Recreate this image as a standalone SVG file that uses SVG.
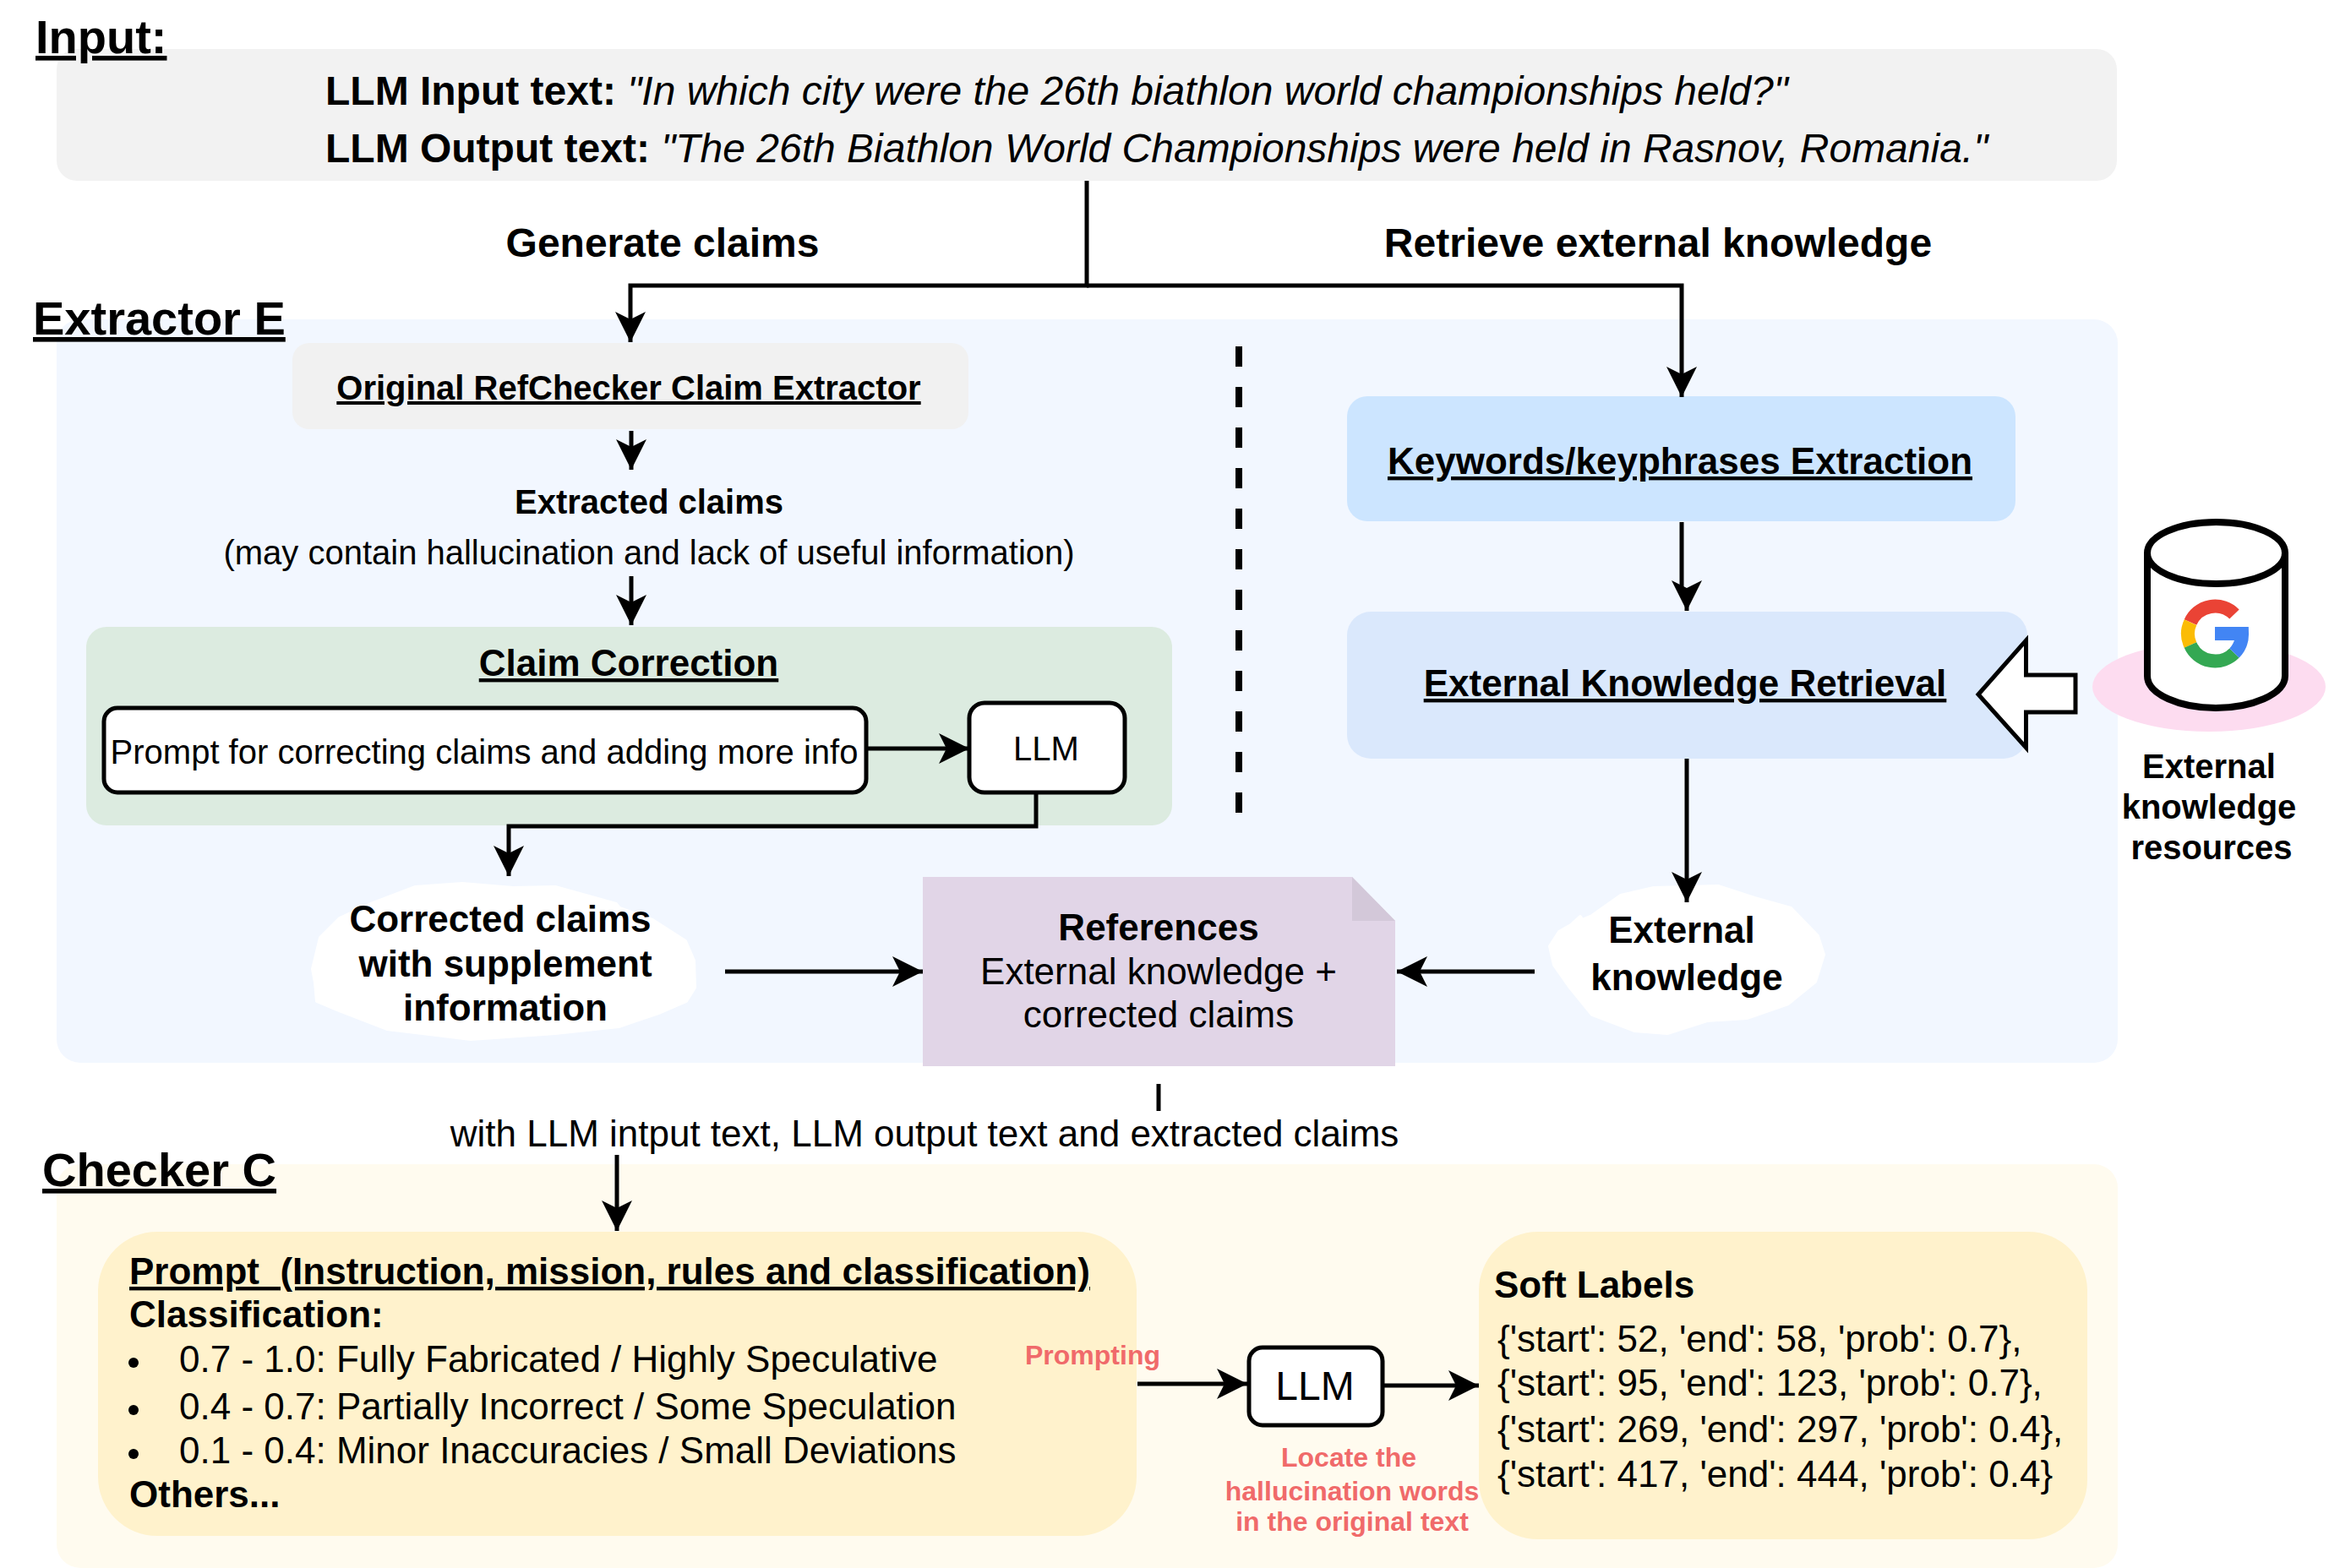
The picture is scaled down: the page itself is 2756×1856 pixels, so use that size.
<svg xmlns="http://www.w3.org/2000/svg" width="2756" height="1856" viewBox="0 0 2756 1856">
<style>
text{font-family:"Liberation Sans",Arial,sans-serif;fill:#000}
.b{font-weight:700}.u{text-decoration:underline}.m{text-anchor:middle}.i{font-style:italic}
.t{font-size:56px;font-weight:700;text-decoration:underline}
.s44{font-size:44px}.s48{font-size:48px}.s40{font-size:40px}
.red{font-size:32px;font-weight:700;fill:#f06a6a}
.c{fill:none;stroke:#000;stroke-width:5}
.a{marker-end:url(#arr)}
.wb{fill:#fff;stroke:#000;stroke-width:5}
.cloud{fill:#fff;stroke:#fff;stroke-width:4;stroke-linejoin:round}
</style>
<defs>
<marker id="arr" markerUnits="userSpaceOnUse" markerWidth="40" markerHeight="40" refX="36" refY="20" orient="auto" overflow="visible">
<path d="M0,2 L36,20 L0,38 L9,20 Z" fill="#000"/>
</marker>
</defs>
<rect width="2756" height="1856" fill="#fff"/>
<g id="zones">
<rect id="input-zone" x="67" y="58" width="2438" height="156" rx="24" fill="#f2f2f2"/>
<rect id="extractor-zone" x="67" y="378" width="2439" height="880" rx="28" fill="#f2f7ff"/>
<rect id="checker-zone" x="67" y="1378" width="2439" height="478" rx="28" fill="#fffbef"/>
</g>
<g id="titles">
<text class="t" x="42" y="63">Input:</text>
<text class="t" x="39" y="396">Extractor E</text>
<text class="t" x="50" y="1404">Checker C</text>
</g>
<g id="input-text" class="s48">
<text x="385" y="124"><tspan class="b">LLM Input text: </tspan><tspan class="i">"In which city were the 26th biathlon world championships held?"</tspan></text>
<text x="385" y="192"><tspan class="b">LLM Output text: </tspan><tspan class="i">"The 26th Biathlon World Championships were held in Rasnov, Romania."</tspan></text>
</g>
<g id="branch-labels">
<text class="b m s48" x="784" y="304">Generate claims</text>
<text class="b m s48" x="1962" y="304">Retrieve external knowledge</text>
</g>
<g id="node-refchecker">
<rect x="346" y="406" width="800" height="102" rx="20" fill="#f1f1f1"/>
<text class="b u m s40" x="744" y="473">Original RefChecker Claim Extractor</text>
</g>
<g id="node-extracted">
<text class="b m s40" x="768" y="608">Extracted claims</text>
<text class="m s40" x="768" y="668">(may contain hallucination and lack of useful information)</text>
</g>
<g id="node-claim-correction">
<rect x="102" y="742" width="1285" height="235" rx="24" fill="#dcebe0"/>
<text class="b u m s44" x="744" y="800">Claim Correction</text>
</g>
<g id="node-prompt-correct">
<rect class="wb" x="123" y="838" width="902" height="100" rx="16"/>
<text class="m s40" x="573" y="904">Prompt for correcting claims and adding more info</text>
</g>
<g id="node-llm-1">
<rect class="wb" x="1147" y="832" width="184" height="106" rx="18"/>
<text class="m s40" x="1238" y="900">LLM</text>
</g>
<g id="divider"><path d="M1466 410V963" fill="none" stroke="#000" stroke-width="8" stroke-dasharray="24 24"/></g>
<g id="node-keywords">
<rect x="1594" y="469" width="791" height="148" rx="24" fill="#cce5ff"/>
<text class="b u m s44" x="1988" y="561">Keywords/keyphrases Extraction</text>
</g>
<g id="node-retrieval">
<rect x="1594" y="724" width="805" height="174" rx="28" fill="#dae8fc"/>
<text class="b u m s44" x="1994" y="824">External Knowledge Retrieval</text>
</g>
<g id="node-resources">
<ellipse cx="2614" cy="813" rx="138" ry="53" fill="#fddcf0"/>
<path d="M2541 655V800C2541 822 2580 838 2622 838C2664 838 2704 822 2704 800V655" fill="#fff" stroke="#000" stroke-width="8"/>
<ellipse cx="2622.500" cy="654.500" rx="81.500" ry="36.500" fill="#fff" stroke="#000" stroke-width="8"/>
<g fill="none" stroke-width="16">
<path d="M2644 727A32 32 0 0 0 2592 736.500" stroke="#ea4335"/>
<path d="M2592 736.500A32 32 0 0 0 2592 763.500" stroke="#fbbc05"/>
<path d="M2592 763.500A32 32 0 0 0 2644 773" stroke="#34a853"/>
<path d="M2644 773A32 32 0 0 0 2653 750H2621" stroke="#4285f4"/>
</g>
<text class="b m s40" x="2614" y="921">External</text>
<text class="b m s40" x="2614" y="969">knowledge</text>
<text class="b m s40" x="2617" y="1017">resources</text>
</g>
<g id="node-big-arrow">
<path d="M2341 822L2397.500 758V799H2456V843H2397.500V885Z" fill="#fff" stroke="#000" stroke-width="5"/>
</g>
<g id="node-corrected">
<polygon class="cloud" points="370,1147 379,1110 402,1087 441,1069 491,1050 547,1046 607,1051 657,1050 729,1070 733,1075 772,1089 811,1114 821,1137 822,1169 812,1185 782,1198 732,1215 657,1223 557,1230 458,1218 401,1196 375,1185 373,1163"/>
<text class="b m s44" x="592" y="1103">Corrected claims</text>
<text class="b m s44" x="598" y="1156">with supplement</text>
<text class="b m s44" x="598" y="1208">information</text>
</g>
<g id="node-references">
<path d="M1092 1038H1600L1651 1090V1262H1092Z" fill="#e1d5e7"/>
<path d="M1600 1038L1651 1090H1600Z" fill="#d3c8d9"/>
<text class="b m s44" x="1371" y="1113">References</text>
<text class="m s44" x="1371" y="1165">External knowledge +</text>
<text class="m s44" x="1371" y="1216">corrected claims</text>
</g>
<g id="node-external">
<polygon class="cloud" points="1834,1120 1845,1103 1859,1095 1870,1085 1872,1089 1884,1084 1918,1060 1957,1051 2033,1049 2076,1063 2119,1075 2151,1108 2158,1130 2148,1162 2116,1188 2067,1205 2020,1208 1973,1223 1934,1220 1884,1201 1858,1169 1839,1142"/>
<text class="b m s44" x="1990" y="1116">External</text>
<text class="b m s44" x="1996" y="1172">knowledge</text>
</g>
<g id="connector-label">
<text class="m s44" x="1094" y="1357">with LLM intput text, LLM output text and extracted claims</text>
</g>
<g id="node-prompt">
<rect x="116" y="1458" width="1229" height="360" rx="70" fill="#fff2cc"/>
<text class="b u s44" x="153" y="1520" xml:space="preserve">Prompt  (Instruction, mission, rules and classification)</text>
<text class="b s44" x="153" y="1571">Classification:</text>
<circle cx="158" cy="1613" r="6"/><circle cx="158" cy="1669" r="6"/><circle cx="158" cy="1721" r="6"/>
<text class="s44" x="212" y="1624">0.7 - 1.0: Fully Fabricated / Highly Speculative</text>
<text class="s44" x="212" y="1680">0.4 - 0.7: Partially Incorrect / Some Speculation</text>
<text class="s44" x="212" y="1732">0.1 - 0.4: Minor Inaccuracies / Small Deviations</text>
<text class="b s44" x="153" y="1784">Others...</text>
</g>
<g id="node-soft">
<rect x="1750" y="1458" width="720" height="364" rx="70" fill="#fff2cc"/>
<text class="b s44" x="1768" y="1536">Soft Labels</text>
<text class="s44" x="1772" y="1600">{'start': 52, 'end': 58, 'prob': 0.7},</text>
<text class="s44" x="1772" y="1652">{'start': 95, 'end': 123, 'prob': 0.7},</text>
<text class="s44" x="1772" y="1707">{'start': 269, 'end': 297, 'prob': 0.4},</text>
<text class="s44" x="1772" y="1760">{'start': 417, 'end': 444, 'prob': 0.4}</text>
</g>
<g id="node-llm-2">
<rect class="wb" x="1478" y="1595" width="158" height="92" rx="16"/>
<text class="m s48" x="1556" y="1657">LLM</text>
</g>
<g id="red-labels">
<text class="red" x="1213" y="1615">Prompting</text>
<text class="red m" x="1596" y="1736">Locate the</text>
<text class="red m" x="1600" y="1776">hallucination words</text>
<text class="red m" x="1600" y="1812">in the original text</text>
</g>
<g id="connectors">
<path class="c a" d="M1286 214V338H746V405"/>
<path class="c a" d="M1286 338H1990V470"/>
<path class="c a" d="M747 510V556"/>
<path class="c a" d="M747 682V740"/>
<path class="c a" d="M1025 886H1147"/>
<path class="c a" d="M1226 938V978H602V1037"/>
<path class="c" d="M1990 618V698"/>
<path class="c a" d="M1996 698V723"/>
<path class="c a" d="M1996 898V1068"/>
<path class="c a" d="M858 1150H1092"/>
<path class="c a" d="M1816 1150H1653"/>
<path class="c" d="M1371 1283V1315"/>
<path class="c a" d="M730 1367V1457"/>
<path class="c a" d="M1346 1638H1476"/>
<path class="c a" d="M1637 1640H1750"/>
</g>
</svg>
